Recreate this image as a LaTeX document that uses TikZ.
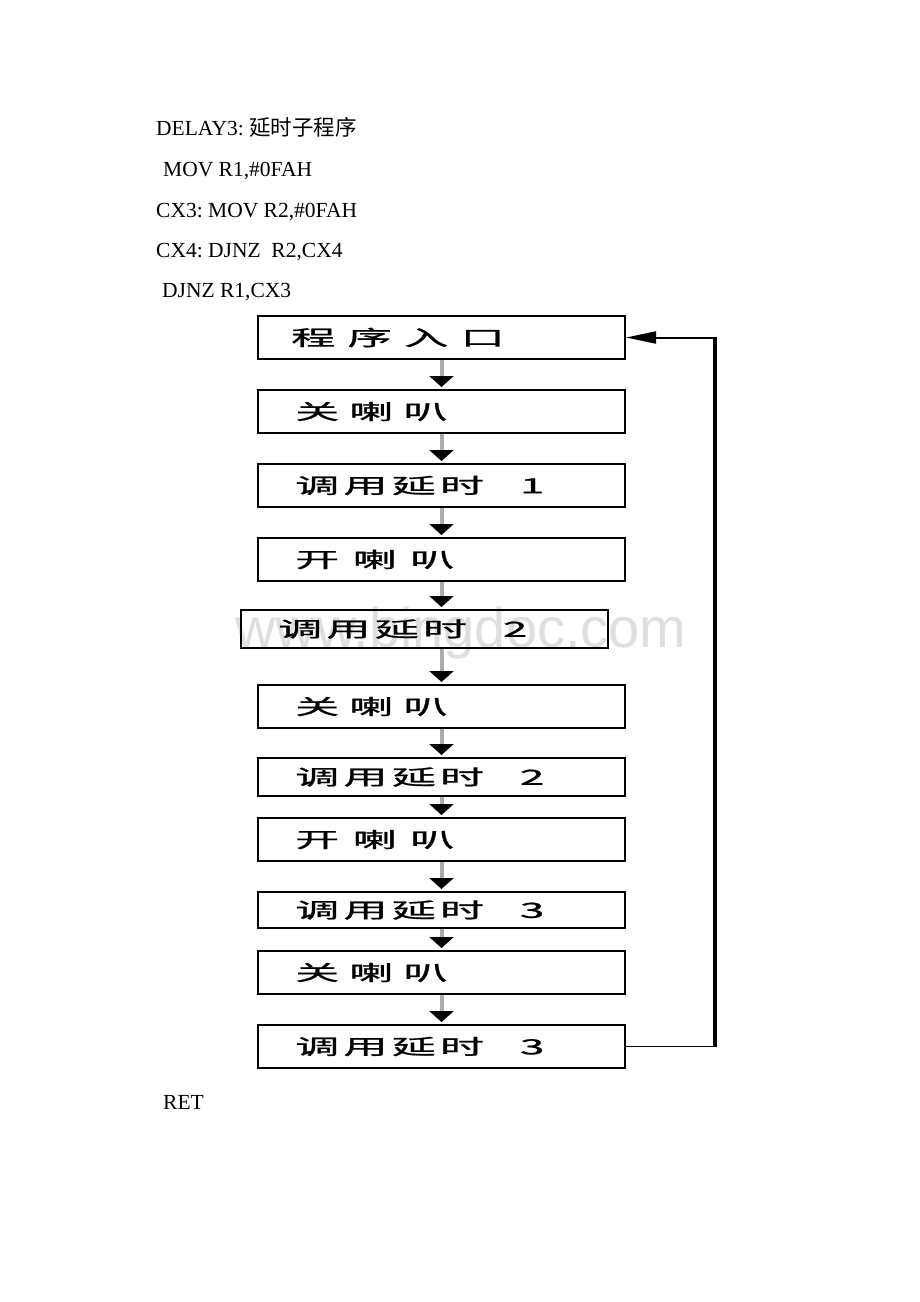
\documentclass[tikz,border=0pt]{standalone}
\usepackage{fontspec}
\usepackage{graphicx}
\setmainfont{Liberation Serif}
\newfontfamily\cjk{Noto Sans CJK SC}
\newfontfamily\cjkbox[FakeBold=0.8]{Noto Sans CJK SC}
\newfontfamily\wmfont{Liberation Sans}
\usetikzlibrary{arrows.meta}
\frenchspacing
\newcommand\boxtext[1]{\scalebox{2.1}[1]{\fontsize{21pt}{21pt}\selectfont\cjkbox #1}}
\newcommand\numgap{\hspace{17pt}}
\tikzset{
  code/.style={inner sep=0pt, anchor=base west, font=\fontsize{21.5pt}{24pt}\selectfont},
  stepbox/.style={draw=black, line width=2pt, minimum width=367pt, inner sep=0pt},
  boxlbl/.style={inner sep=0pt, anchor=west},
  flow/.style={draw=gray!65, line width=4pt, shorten >=2pt,
    -{Triangle[width=24pt,length=11pt,color=black]}},
  wm/.style={inner sep=0pt, anchor=base, text=gray!25, font=\wmfont\fontsize{56pt}{56pt}\selectfont}
}
\begin{document}
\begin{tikzpicture}[x=1pt,y=-1pt]
\fill[white] (0,0) rectangle (920,1302);
\useasboundingbox (0,0) rectangle (920,1302);

% code text
\node[code] (c1) at (156,135) {DELAY3: {\cjk 延时子程序}};
\node[code] (c2) at (163,176) {MOV R1,\#0FAH};
\node[code] (c3) at (156,217) {CX3: MOV R2,\#0FAH};
\node[code] (c4) at (156,257) {CX4: DJNZ\ \ R2,CX4};
\node[code] (c5) at (162,297) {DJNZ R1,CX3};
\node[code] (ret) at (163,1109) {RET};

% watermark
\node[wm] (wmk) at (461,647) {www.bingdoc.com};

% boxes
\node[stepbox, minimum height=43pt] (b1) at (441.5,337.5) {};
\node[stepbox, minimum height=43pt] (b2) at (441.5,411.5) {};
\node[stepbox, minimum height=43pt] (b3) at (441.5,485.5) {};
\node[stepbox, minimum height=43pt] (b4) at (441.5,559.5) {};
\node[stepbox, minimum height=38pt] (b5) at (424.5,629) {};
\node[stepbox, minimum height=43pt] (b6) at (441.5,706.5) {};
\node[stepbox, minimum height=38pt] (b7) at (441.5,777) {};
\node[stepbox, minimum height=43pt] (b8) at (441.5,839.5) {};
\node[stepbox, minimum height=36pt] (b9) at (441.5,910) {};
\node[stepbox, minimum height=43pt] (b10) at (441.5,972.5) {};
\node[stepbox, minimum height=43pt] (b11) at (441.5,1046.5) {};

% box labels
\node[boxlbl] (t1) at ([xshift=34pt]b1.west) {\boxtext{程\hspace{5.9pt}序\hspace{5.9pt}入\hspace{5.9pt}口}};
\node[boxlbl] (t2) at ([xshift=38pt]b2.west) {\boxtext{关\hspace{4.8pt}喇\hspace{4.8pt}叭}};
\node[boxlbl] (t3) at ([xshift=38pt]b3.west) {\boxtext{调\hspace{2pt}用\hspace{2pt}延\hspace{2pt}时\numgap 1}};
\node[boxlbl] (t4) at ([xshift=38pt]b4.west) {\boxtext{开\hspace{6.4pt}喇\hspace{6.4pt}叭}};
\node[boxlbl] (t5) at ([xshift=38pt]b5.west) {\boxtext{调\hspace{2pt}用\hspace{2pt}延\hspace{2pt}时\numgap 2}};
\node[boxlbl] (t6) at ([xshift=38pt]b6.west) {\boxtext{关\hspace{4.8pt}喇\hspace{4.8pt}叭}};
\node[boxlbl] (t7) at ([xshift=38pt]b7.west) {\boxtext{调\hspace{2pt}用\hspace{2pt}延\hspace{2pt}时\numgap 2}};
\node[boxlbl] (t8) at ([xshift=38pt]b8.west) {\boxtext{开\hspace{6.4pt}喇\hspace{6.4pt}叭}};
\node[boxlbl] (t9) at ([xshift=38pt]b9.west) {\boxtext{调\hspace{2pt}用\hspace{2pt}延\hspace{2pt}时\numgap 3}};
\node[boxlbl] (t10) at ([xshift=38pt]b10.west) {\boxtext{关\hspace{4.8pt}喇\hspace{4.8pt}叭}};
\node[boxlbl] (t11) at ([xshift=38pt]b11.west) {\boxtext{调\hspace{2pt}用\hspace{2pt}延\hspace{2pt}时\numgap 3}};

% flow arrows
\draw[flow] (b1.south) -- (b2.north);
\draw[flow] (b2.south) -- (b3.north);
\draw[flow] (b3.south) -- (b4.north);
\draw[flow] (b4.south) -- (b4.south |- b5.north);
\draw[flow] (b6.north |- b5.south) -- (b6.north);
\draw[flow] (b6.south) -- (b7.north);
\draw[flow] (b7.south) -- (b8.north);
\draw[flow] (b8.south) -- (b9.north);
\draw[flow] (b9.south) -- (b10.north);
\draw[flow] (b10.south) -- (b11.north);

% feedback loop
\coordinate (fbr) at (715,1046.5);
\draw[line width=1.2pt] (b11.east) -- (fbr);
\draw[line width=3.5pt] (fbr) -- (fbr |- b1.east);
\draw[line width=2pt, -{Triangle[width=12pt,length=30pt]}] ([xshift=1.75pt]fbr |- b1.east) -- (b1.east);
\end{tikzpicture}
\end{document}
